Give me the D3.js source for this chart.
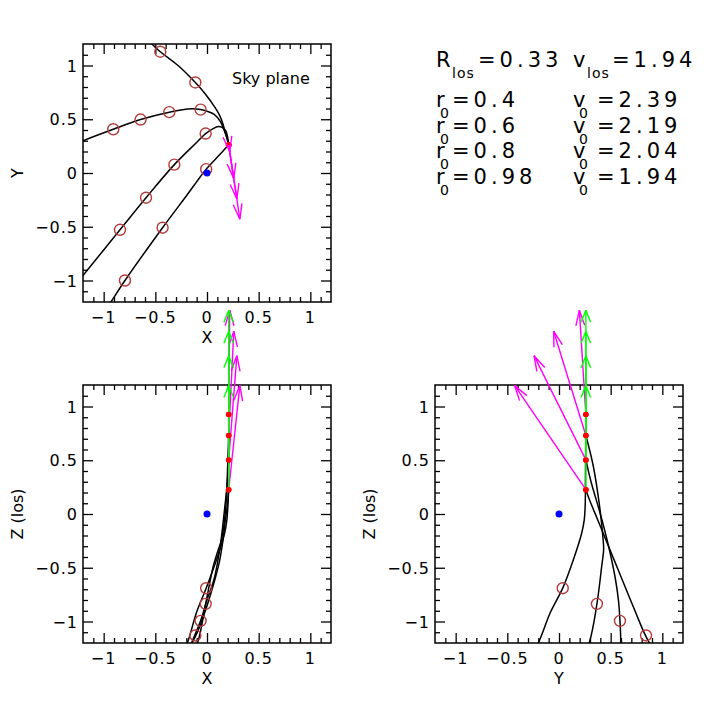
<!DOCTYPE html>
<html>
<head>
<meta charset="utf-8">
<script src="https://cdn.jsdelivr.net/npm/d3@7"></script>
<style>
  body { margin: 0; background: #fff; }
  text { font-family: "DejaVu Sans", sans-serif; fill: #000; }
</style>
</head>
<body>
<svg id="chart" width="711" height="706"></svg>
<script>
// axis ticks
const majorTicks = [-1, -0.5, 0, 0.5, 1];
const minorTicks = [-1.1, -0.9, -0.8, -0.7, -0.6, -0.4, -0.3, -0.2, -0.1,
                    0.1, 0.2, 0.3, 0.4, 0.6, 0.7, 0.8, 0.9, 1.1];

// legend text
const r0Labels = ['0.4', '0.6', '0.8', '0.98'];
const v0Labels = ['2.39', '2.19', '2.04', '1.94'];
const rLos = '0.33';
const vLos = '1.94';

// present position on the sky, and the los depth for each r0
const nowX = 0.21;
const nowY = 0.26;
const zNow = [0.226, 0.503, 0.73, 0.925];

// velocity arrows (plotted displacement), one per r0
const velDX = [0.108, 0.079, 0.049, 0.01];
const velDY = [-0.69, -0.502, -0.312, -0.063];
const velDZ = [0.97, 0.97, 0.97, 0.97];

// backward orbits, [X, Y, Z]
const track04 = [
  [0.21, 0.26, 0.226], [0.203, 0.30, 0.12], [0.183, 0.36, -0.02],
  [0.17, 0.40, -0.114], [0.155, 0.454, -0.241], [0.12, 0.54, -0.443],
  [0.077, 0.61, -0.607], [-0.02, 0.74, -0.912], [-0.113, 0.842, -1.14],
  [-0.28, 1.0, -1.4], [-0.452, 1.128, -1.62], [-0.536, 1.2, -1.72],
  [-0.62, 1.26, -1.82]
];
const track06 = [
  [0.21, 0.26, 0.503], [0.197, 0.31, 0.3], [0.165, 0.40, 0.0],
  [0.128, 0.48, -0.3], [0.07, 0.545, -0.6], [0.0, 0.575, -0.8],
  [-0.062, 0.59, -0.994], [-0.15, 0.597, -1.2], [-0.365, 0.566, -1.7],
  [-0.643, 0.497, -2.3], [-0.907, 0.407, -2.9], [-1.2, 0.30, -3.5],
  [-1.3, 0.26, -3.7]
];
const track08 = [
  [0.21, 0.26, 0.73], [0.20, 0.332, 0.444], [0.18, 0.397, 0.04],
  [0.14, 0.427, -0.24], [0.11, 0.432, -0.33], [0.06, 0.413, -0.488],
  [-0.013, 0.367, -0.836], [-0.091, 0.293, -1.2], [-0.316, 0.078, -1.75],
  [-0.59, -0.23, -2.3], [-0.842, -0.528, -2.85], [-1.2, -0.953, -3.6],
  [-1.3, -1.07, -3.8]
];
const track098 = [
  [0.21, 0.26, 0.925], [0.21, 0.258, 0.6], [0.208, 0.256, 0.3],
  [0.203, 0.254, 0.1], [0.193, 0.245, -0.05], [0.171, 0.22, -0.177],
  [0.092, 0.139, -0.426], [-0.008, 0.036, -0.69], [-0.104, -0.087, -0.923],
  [-0.19, -0.2, -1.2], [-0.43, -0.509, -1.75], [-0.794, -1.0, -2.4],
  [-0.93, -1.2, -2.65], [-1.0, -1.3, -2.8]
];
const tracks = [track04, track06, track08, track098];

// time markers (open circles), [X, Y, Z]
const marks04 = [[-0.113, 0.842, -1.13], [-0.452, 1.128, -1.62]];
const marks06 = [[-0.062, 0.59, -0.994], [-0.365, 0.566, -1.7], [-0.643, 0.497, -2.3], [-0.907, 0.407, -2.9]];
const marks08 = [[-0.013, 0.367, -0.836], [-0.316, 0.078, -1.75], [-0.59, -0.23, -2.3], [-0.842, -0.528, -2.85]];
const marks098 = [[-0.008, 0.036, -0.69], [-0.43, -0.509, -1.75], [-0.794, -1.0, -2.4]];
const marks = [marks04, marks06, marks08, marks098];

const svg = d3.select('#chart');
const panelW = 248, panelH = 258;
const panels = [
  {id: 'sky', h: 0, v: 1, left: 83, top: 44, xLabel: 'X', yLabel: 'Y'},
  {id: 'xz', h: 0, v: 2, left: 83, top: 385, xLabel: 'X', yLabel: 'Z (los)'},
  {id: 'yz', h: 1, v: 2, left: 435, top: 385, xLabel: 'Y', yLabel: 'Z (los)'}
];

function arrow(g, x1, y1, x2, y2, color, headLen, halfAng) {
  const len = Math.hypot(x2 - x1, y2 - y1);
  if (len < 1) return;
  const th = Math.atan2(y2 - y1, x2 - x1);
  g.append('line').attr('x1', x1).attr('y1', y1).attr('x2', x2).attr('y2', y2)
    .attr('stroke', color).attr('stroke-width', 1.4);
  [-halfAng, halfAng].forEach(a => {
    g.append('line').attr('x1', x2).attr('y1', y2)
      .attr('x2', x2 - headLen * Math.cos(th + a))
      .attr('y2', y2 - headLen * Math.sin(th + a))
      .attr('stroke', color).attr('stroke-width', 1.4);
  });
}

panels.forEach(p => {
  const x = d3.scaleLinear().domain([-1.2, 1.2]).range([p.left, p.left + panelW]);
  const y = d3.scaleLinear().domain([-1.2, 1.2]).range([p.top + panelH, p.top]);

  svg.append('clipPath').attr('id', 'clip-' + p.id)
    .append('rect').attr('x', p.left).attr('y', p.top).attr('width', panelW).attr('height', panelH);

  // ticks on all four sides, pointing in
  const addAxis = (axis, tx, ty, size) => {
    const g = svg.append('g').attr('transform', `translate(${tx},${ty})`)
      .call(axis.tickSize(size));
    g.select('.domain').remove();
    g.selectAll('line').attr('stroke', '#000').attr('stroke-width', 1.3);
  };
  [[minorTicks, -5], [majorTicks, -10]].forEach(([vals, sz]) => {
    addAxis(d3.axisBottom(x).tickValues(vals).tickFormat(''), 0, p.top + panelH, sz);
    addAxis(d3.axisTop(x).tickValues(vals).tickFormat(''), 0, p.top, sz);
    addAxis(d3.axisLeft(y).tickValues(vals).tickFormat(''), p.left, 0, sz);
    addAxis(d3.axisRight(y).tickValues(vals).tickFormat(''), p.left + panelW, 0, sz);
  });

  const fmt = d3.format('~g');
  svg.append('g').selectAll('text').data(majorTicks).join('text')
    .attr('x', d => x(d)).attr('y', p.top + panelH + 21)
    .attr('text-anchor', 'middle').attr('font-size', 16).attr('letter-spacing', 1)
    .text(fmt);
  svg.append('g').selectAll('text').data(majorTicks).join('text')
    .attr('x', p.left - 5).attr('y', d => y(d) + 6)
    .attr('text-anchor', 'end').attr('font-size', 16).attr('letter-spacing', 1)
    .text(fmt);

  svg.append('text').attr('x', p.left + panelW / 2).attr('y', p.top + panelH + 41)
    .attr('text-anchor', 'middle').attr('font-size', 16).text(p.xLabel);
  svg.append('text')
    .attr('transform', `translate(${p.left - 60},${p.top + panelH / 2}) rotate(-90)`)
    .attr('text-anchor', 'middle').attr('font-size', 16).text(p.yLabel);

  svg.append('rect').attr('x', p.left).attr('y', p.top).attr('width', panelW).attr('height', panelH)
    .attr('fill', 'none').attr('stroke', '#000').attr('stroke-width', 1.5);

  const inner = svg.append('g').attr('clip-path', `url(#clip-${p.id})`);
  const line = d3.line().x(d => x(d[p.h])).y(d => y(d[p.v])).curve(d3.curveCatmullRom.alpha(0.5));
  inner.selectAll('path.track').data(tracks).join('path').attr('class', 'track')
    .attr('d', line).attr('fill', 'none').attr('stroke', '#000').attr('stroke-width', 1.5);
  inner.selectAll('circle.mark').data(marks.flat()).join('circle').attr('class', 'mark')
    .attr('cx', d => x(d[p.h])).attr('cy', d => y(d[p.v])).attr('r', 5.5)
    .attr('fill', 'none').attr('stroke', '#b33a3a').attr('stroke-width', 1.4);

  // blue dot at origin
  svg.append('circle').attr('cx', x(0)).attr('cy', y(0)).attr('r', 3.5).attr('fill', '#0000ff');

  // present positions and velocity arrows
  const ag = svg.append('g');
  zNow.forEach(z => {
    const s = [nowX, nowY, z];
    ag.append('circle').attr('cx', x(s[p.h])).attr('cy', y(s[p.v])).attr('r', 2.8).attr('fill', '#ff0000');
  });
  zNow.forEach((z, i) => {
    const s = [nowX, nowY, z];
    const e = [nowX + velDX[i], nowY + velDY[i], z + velDZ[i]];
    arrow(ag, x(s[p.h]), y(s[p.v]), x(e[p.h]), y(e[p.v]), '#ff00ff', 16, 0.28);
  });
  zNow.forEach((z, i) => {
    const s = [nowX, nowY, z];
    const e = [nowX, nowY, z + velDZ[i]];
    arrow(ag, x(s[p.h]), y(s[p.v]), x(e[p.h]), y(e[p.v]), '#00ff00', 13, 0.38);
  });
  zNow.forEach(z => {
    const s = [nowX, nowY, z];
    if (p.v === 2) ag.append('circle').attr('cx', x(s[p.h])).attr('cy', y(s[p.v])).attr('r', 2.8).attr('fill', '#ff0000');
  });
});

svg.append('text').attr('x', 232).attr('y', 84).attr('font-size', 16).text('Sky plane');

// parameter block
const big = 21, small = 14;
function label(x0, y0, main, sub, rest, subDx, restDx) {
  svg.append('text').attr('x', x0).attr('y', y0).attr('font-size', big).text(main);
  svg.append('text').attr('x', x0 + subDx).attr('y', y0 + 11).attr('font-size', small)
    .attr('letter-spacing', 1).text(sub);
  svg.append('text').attr('x', x0 + restDx).attr('y', y0).attr('font-size', big)
    .attr('letter-spacing', 4).text(rest);
}
label(436, 67, 'R', 'los', '=' + rLos, 16, 42);
label(573, 67, 'v', 'los', '=' + vLos, 14, 39);
r0Labels.forEach((r, i) => {
  const yb = 107 + i * 25.6;
  label(436, yb, 'r', '0', '=' + r, 4, 16);
  label(573, yb, 'v', '0', '=' + v0Labels[i], 6, 24);
});
</script>
</body>
</html>
